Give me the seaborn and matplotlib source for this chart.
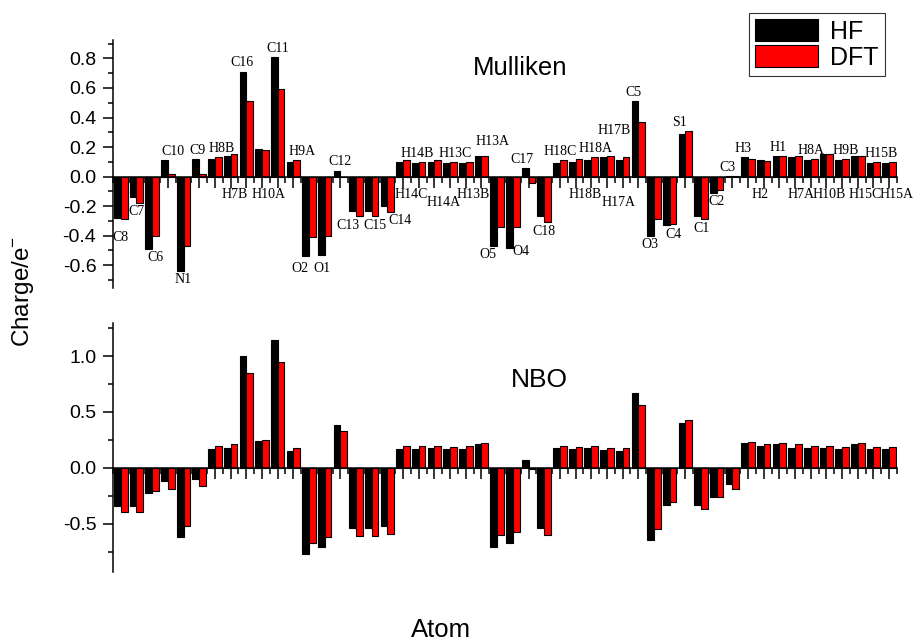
import matplotlib

matplotlib.use("Agg")
import matplotlib.pyplot as plt
import pandas as pd
import seaborn as sns
from matplotlib.patches import Patch
from matplotlib.ticker import MultipleLocator

atoms = [
    "C8", "C7", "C6", "C10", "N1", "C9", "H8B", "H7B", "C16", "H10A",
    "C11", "H9A", "O2", "O1", "C12", "C13", "C15", "C14", "H14C", "H14B",
    "H14A", "H13C", "H13B", "H13A", "O5", "O4", "C17", "C18", "H18C", "H18B",
    "H18A", "H17A", "H17B", "C5", "O3", "C4", "S1", "C1", "C2", "C3",
    "H3", "H2", "H1", "H7A", "H8A", "H10B", "H9B", "H15C", "H15B", "H15A",
]

mulliken_hf = [
    -0.28, -0.14, -0.49, 0.11, -0.64, 0.12, 0.12, 0.14, 0.71, 0.19,
    0.81, 0.10, -0.535, -0.53, 0.04, -0.23, -0.23, -0.20, 0.10, 0.09,
    0.10, 0.09, 0.09, 0.14, -0.47, -0.48, 0.06, -0.27, 0.095, 0.10,
    0.11, 0.13, 0.11, 0.51, -0.40, -0.33, 0.29, -0.27, -0.11, 0.004,
    0.13, 0.11, 0.14, 0.13, 0.11, 0.15, 0.11, 0.14, 0.09, 0.09,
]
mulliken_dft = [
    -0.29, -0.18, -0.40, 0.02, -0.47, 0.02, 0.13, 0.15, 0.51, 0.18,
    0.59, 0.11, -0.41, -0.40, 0.0, -0.27, -0.27, -0.24, 0.11, 0.10,
    0.11, 0.10, 0.10, 0.14, -0.34, -0.34, -0.045, -0.31, 0.11, 0.12,
    0.13, 0.14, 0.13, 0.37, -0.29, -0.32, 0.31, -0.29, -0.09, 0.002,
    0.12, 0.105, 0.14, 0.14, 0.12, 0.15, 0.12, 0.14, 0.10, 0.10,
]
nbo_hf = [
    -0.34, -0.34, -0.22, -0.12, -0.62, -0.10, 0.17, 0.18, 1.00, 0.24,
    1.14, 0.15, -0.77, -0.71, 0.38, -0.54, -0.54, -0.52, 0.17, 0.17,
    0.18, 0.17, 0.17, 0.21, -0.71, -0.67, 0.07, -0.54, 0.18, 0.17,
    0.18, 0.16, 0.15, 0.67, -0.64, -0.33, 0.40, -0.33, -0.26, -0.14,
    0.22, 0.20, 0.21, 0.18, 0.18, 0.18, 0.17, 0.21, 0.17, 0.17,
]
nbo_dft = [
    -0.39, -0.39, -0.21, -0.19, -0.52, -0.16, 0.20, 0.21, 0.85, 0.25,
    0.95, 0.18, -0.67, -0.62, 0.33, -0.61, -0.61, -0.59, 0.20, 0.20,
    0.20, 0.19, 0.20, 0.22, -0.60, -0.57, -0.01, -0.60, 0.20, 0.19,
    0.20, 0.18, 0.18, 0.56, -0.55, -0.30, 0.43, -0.37, -0.26, -0.19,
    0.23, 0.21, 0.22, 0.21, 0.20, 0.20, 0.19, 0.22, 0.19, 0.19,
]

methods = ["HF", "DFT"]
colors = ["black", "red"]

# positive atoms whose name sits under the zero line in the Mulliken panel
labels_below = {"H7B", "H10A", "H14C", "H14A", "H13B", "H18B", "H17A",
                "H2", "H7A", "H10B", "H15C", "H15A"}
labels_low = {"H14A", "H17A"}
# small shifts (category units, charge units) so the names do not collide
label_nudge = {
    "C6": (0.2, 0), "C10": (0.3, 0), "C9": (-0.1, 0), "H8B": (0.4, 0),
    "H7B": (0.25, 0), "C16": (-0.25, 0), "H10A": (0.4, 0), "H9A": (0.55, 0),
    "O2": (-0.6, -0.03), "O1": (-0.2, -0.03), "C13": (-0.5, 0),
    "C15": (0.2, 0), "C14": (0.8, 0), "H14C": (0.55, 0), "H14B": (-0.1, 0),
    "H14A": (0.6, 0), "H13C": (0.3, 0), "H13B": (0.45, 0),
    "H13A": (0.7, 0.04), "O5": (-0.6, 0), "O4": (0.5, 0.03),
    "C17": (-0.4, 0), "H18B": (0.6, 0), "H18A": (0.25, 0), "H17A": (0.75, 0),
    "H17B": (-0.55, 0.12), "C5": (-0.3, 0), "O3": (-0.25, 0), "C4": (0.25, 0),
    "S1": (-0.35, 0), "C3": (-0.3, 0), "H3": (-0.3, 0), "H2": (-0.2, 0),
    "H1": (-0.1, 0), "H7A": (0.4, 0), "H10B": (0.2, 0), "H9B": (0.2, 0),
    "H15C": (0.45, 0), "H15B": (0.5, 0), "H15A": (0.5, 0), "C8": (0, -0.06),
}

sns.set_style("ticks")
plt.rcParams["font.family"] = ["Liberation Sans", "DejaVu Sans"]
plt.rcParams["mathtext.default"] = "regular"
for key in ("text.color", "axes.labelcolor", "axes.edgecolor",
            "xtick.color", "ytick.color"):
    plt.rcParams[key] = "black"


def long_frame(hf, dft):
    return pd.DataFrame({
        "atom": atoms * 2,
        "method": ["HF"] * len(atoms) + ["DFT"] * len(atoms),
        "charge": list(hf) + list(dft),
    })


def draw_panel(ax, df):
    sns.barplot(data=df, x="atom", y="charge", hue="method", order=atoms,
                hue_order=methods, palette=colors, saturation=1, width=0.86,
                edgecolor="black", linewidth=0.8, legend=False, ax=ax)
    ax.set_xlim(-0.5, len(atoms) - 0.5)
    ax.spines["top"].set_visible(False)
    ax.spines["right"].set_visible(False)
    ax.spines["bottom"].set_position(("data", 0))
    ax.spines["bottom"].set_zorder(5)
    for s in ("left", "bottom"):
        ax.spines[s].set_linewidth(1.1)
    ax.set_xticks(range(len(atoms)))
    ax.xaxis.set_minor_locator(MultipleLocator(1, offset=0.5))
    ax.tick_params(axis="x", which="major", direction="out", length=8,
                   width=1.1, labelbottom=False)
    ax.tick_params(axis="x", which="minor", direction="out", length=4, width=1.1)
    ax.tick_params(axis="y", which="major", direction="out", length=7,
                   width=1.1, labelsize=14, pad=5)
    ax.tick_params(axis="y", which="minor", direction="out", length=3.5, width=1.1)
    ax.set_xlabel("")
    ax.set_ylabel("")


fig = plt.figure(figsize=(9.17, 6.41), dpi=100)
ax_top = fig.add_axes([0.1232, 0.5507, 0.855, 0.387])
ax_bot = fig.add_axes([0.1232, 0.1076, 0.855, 0.3885])

draw_panel(ax_top, long_frame(mulliken_hf, mulliken_dft))
ax_top.set_ylim(-0.754, 0.925)
ax_top.yaxis.set_minor_locator(MultipleLocator(0.1))
ax_top.set_yticks([-0.6, -0.4, -0.2, 0.0, 0.2, 0.4, 0.6, 0.8])
ax_top.set_yticklabels(["-0.6", "-0.4", "-0.2", "0.0", "0.2", "0.4", "0.6", "0.8"])

draw_panel(ax_bot, long_frame(nbo_hf, nbo_dft))
ax_bot.set_ylim(-0.93, 1.295)
ax_bot.set_yticks([-0.5, 0.0, 0.5, 1.0])
ax_bot.set_yticklabels(["-0.5", "0.0", "0.5", "1.0"])
ax_bot.yaxis.set_minor_locator(MultipleLocator(0.25))

# atom names on the Mulliken panel
for i, name in enumerate(atoms):
    hi = max(mulliken_hf[i], mulliken_dft[i])
    lo = min(mulliken_hf[i], mulliken_dft[i])
    if lo < -0.02 and hi < 0.02:
        y, va = lo - 0.015, "top"
    elif name in labels_below:
        y, va = (-0.13 if name in labels_low else -0.075), "top"
    else:
        y, va = max(hi, 0) + 0.015, "bottom"
    dx, dy = label_nudge.get(name, (0, 0))
    ax_top.text(i + dx, y + dy, name, ha="center", va=va, fontsize=10,
                family=["Liberation Serif", "DejaVu Serif"])

ax_top.text(25.46, 0.736, "Mulliken", ha="center", va="center", fontsize=18.5)
ax_bot.text(26.7, 0.786, "NBO", ha="center", va="center", fontsize=19)

fig.text(0.025, 0.546, "Charge/e$^{-}$", rotation=90, ha="center",
         va="center", fontsize=17.5)
fig.text(0.481, 0.017, "Atom", ha="center", va="center", fontsize=18.5)

handles = [Patch(facecolor=c, edgecolor="black", linewidth=0.8) for c in colors]
leg = fig.legend(handles, methods, loc="upper right",
                 bbox_to_anchor=(0.965, 0.98), fontsize=18, frameon=True,
                 fancybox=False, edgecolor="black", handlelength=2.5,
                 handleheight=1.0, handletextpad=0.5, labelspacing=0.05,
                 borderpad=0.25, borderaxespad=0)
leg.get_frame().set_linewidth(0.8)

fig.savefig("out.png", dpi=100)
